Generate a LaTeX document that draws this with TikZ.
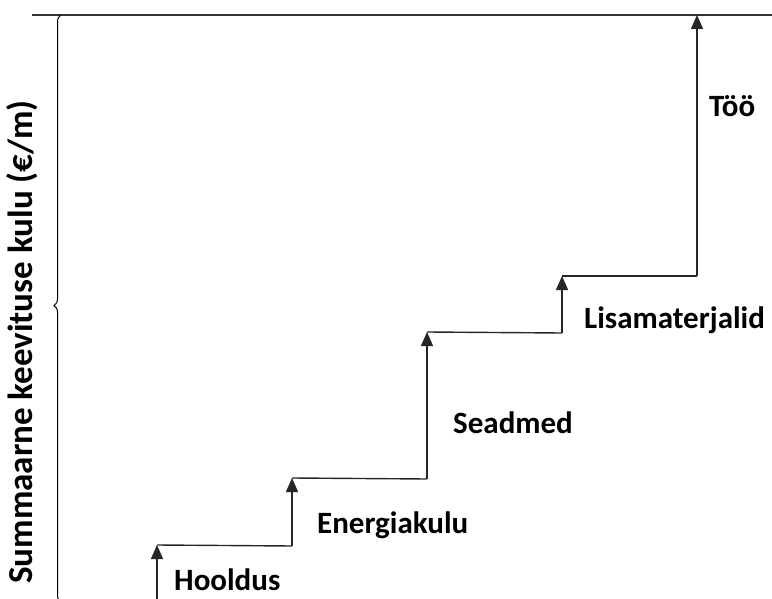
\documentclass[tikz,border=0pt]{standalone}
\usepackage{fontspec}
\setmainfont{Carlito}
\usetikzlibrary{arrows.meta,decorations.pathreplacing,positioning}

\tikzset{
    stair/.style={line width=1.4pt, black!85},
    rise/.style={stair, -{Triangle[width=12pt,length=14pt]}},
    costlabel/.style={anchor=west, inner sep=0pt, font=\fontsize{31}{36}\selectfont\bfseries}
}

\begin{document}
\begin{tikzpicture}[x=1pt,y=-1pt]
    \useasboundingbox (0,0) rectangle (772,599);

    % top level line
    \draw[line width=1.2pt, black!80] (32,15) -- (772,15);

    % brace on the left
    \draw[line width=1pt, decorate, decoration={brace, amplitude=7pt, aspect=0.505}]
        (61,602) -- (61,15);

    \node[rotate=90, inner sep=0pt, font=\fontsize{35}{40}\selectfont\bfseries]
        (axis) at (22,342) {Summaarne keevituse kulu (€/m)};

    % steps
    \coordinate (b1) at (157,599);
    \coordinate (t1) at (157,545);
    \coordinate (b2) at (292,546);
    \coordinate (t2) at (292,478);
    \coordinate (b3) at (427,479);
    \coordinate (t3) at (427,332);
    \coordinate (b4) at (562,333);
    \coordinate (t4) at (562,276);
    \coordinate (b5) at (697,276);
    \coordinate (t5) at (697,15);

    \draw[rise] (b1) -- (t1);
    \draw[stair] (t1) -- (b2);
    \draw[rise] (b2) -- (t2);
    \draw[stair] (t2) -- (b3);
    \draw[rise] (b3) -- (t3);
    \draw[stair] (t3) -- (b4);
    \draw[rise] (b4) -- (t4);
    \draw[stair] (t4) -- (b5);
    \draw[rise] (b5) -- (t5);

    % labels
    \node[costlabel] (hooldus) at (174,580) {Hooldus};
    \node[costlabel] (energia) at (317,525) {Energiakulu};
    \node[costlabel] (seadmed) at (453,423) {Seadmed};
    \node[costlabel] (lisamat) at (584,320) {Lisamaterjalid};
    \node[costlabel] (too) at (709,106) {Töö};
\end{tikzpicture}
\end{document}
